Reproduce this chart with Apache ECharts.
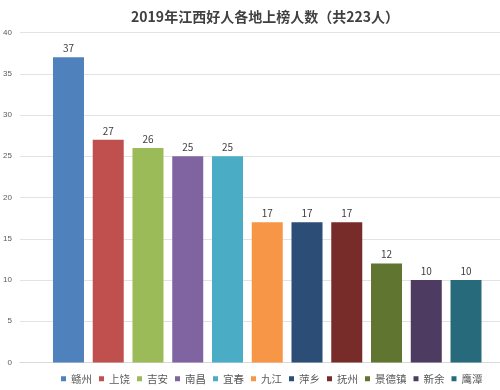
<!DOCTYPE html>
<html><head><meta charset="utf-8">
<script src="https://cdn.jsdelivr.net/npm/echarts@6/dist/echarts.min.js"></script>
<style>html,body{margin:0;padding:0;background:#fff}#c{width:500px;height:390px}</style>
</head><body><div id="c"></div>
<script>
const titleText = "2019年江西好人各地上榜人数（共223人）";
const categories = ["赣州","上饶","吉安","南昌","宜春","九江","萍乡","抚州","景德镇","新余","鹰潭"];
const values = [37,27,26,25,25,17,17,17,12,10,10];
const colors = ["#4F81BD","#C0504D","#9BBB59","#8064A2","#4BACC6","#F79646","#2C4D75","#772C2A","#5F7530","#4D3B62","#276A7C"];
const yTicks = [0,5,10,15,20,25,30,35,40];

const chart = echarts.init(document.getElementById('c'), null, {renderer:'canvas'});
const series = categories.map((name, i) => ({
  name: name,
  type: 'bar',
  xAxisIndex: 1, yAxisIndex: 1,
  stack: 'all',
  barWidth: 31,
  itemStyle: {color: colors[i]},
  label: {show: true, position: 'top', distance: 4, fontSize: 10, color: '#404040', fontFamily: 'Noto Sans CJK SC'},
  data: categories.map((c, j) => j === i ? values[i] : '-')
}));
chart.setOption({
  animation: false,
  backgroundColor: '#fff',
  color: colors,
  title: {text: titleText, left: 260, top: 5, textAlign: 'center',
    textStyle: {fontSize: 14, fontWeight: 'bold', color: '#404040', fontFamily: 'Noto Sans CJK SC'}},
  legend: {data: categories, bottom: 1, left: 56, itemWidth: 5, itemHeight: 5, itemGap: 7,
    icon: 'rect', textStyle: {fontSize: 10.5, color: '#595959', fontFamily: 'Noto Sans CJK SC'}},
  grid: [
    {left: 19.5, right: 0, top: 32.5, bottom: 27.5},
    {left: 48.6, width: 437.3, top: 32.5, bottom: 27.5}
  ],
  xAxis: [
    {gridIndex: 0, type: 'category', data: [''], axisLine: {lineStyle: {color: '#D9D9D9'}}, axisTick: {show: false}, axisLabel: {show: false}},
    {gridIndex: 1, type: 'category', data: categories, axisLine: {show: false}, axisTick: {show: false}, axisLabel: {show: false}}
  ],
  yAxis: [
    {gridIndex: 0, type: 'value', min: 0, max: 40, interval: 5,
      axisLabel: {fontSize: 8, color: '#595959', margin: 8, formatter: v => yTicks.includes(v) ? String(v) : ''},
      splitLine: {lineStyle: {color: '#E3E3E3'}}, axisLine: {show: false}, axisTick: {show: false}},
    {gridIndex: 1, type: 'value', min: 0, max: 40, interval: 5, show: false, splitLine: {show: false}}
  ],
  series: series
});
</script></body></html>
